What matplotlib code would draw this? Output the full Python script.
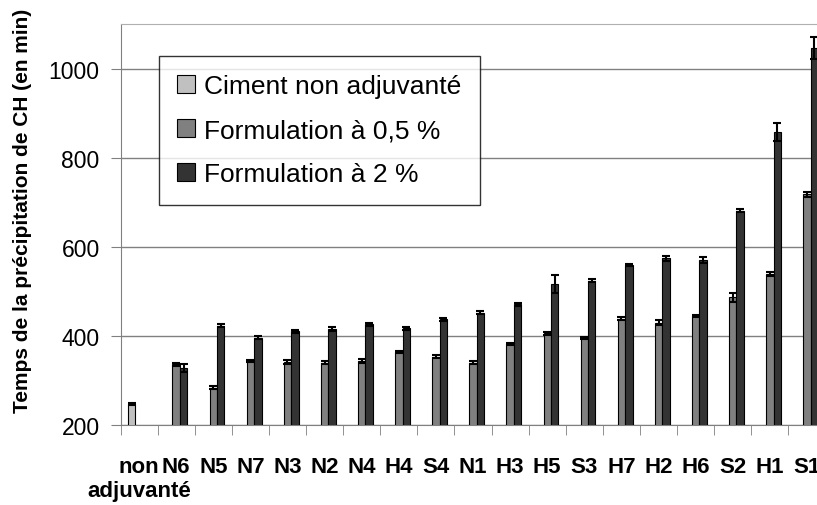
import numpy as np
import matplotlib
matplotlib.use("Agg")
import matplotlib.pyplot as plt
from matplotlib.patches import Patch

plt.rcParams['font.family'] = ['Liberation Sans', 'DejaVu Sans']

# Categories (sorted as in the figure)
categories = ['non\nadjuvanté', 'N6', 'N5', 'N7', 'N3', 'N2', 'N4', 'H4', 'S4', 'N1',
              'H3', 'H5', 'S3', 'H7', 'H2', 'H6', 'S2', 'H1', 'S1']

# Ciment non adjuvanté (only first category)
ref_value = [248]
ref_err = [2]

# Formulation à 0,5 % (categories N6 ... S1)
f05_values = [336, 284, 344, 342, 340, 344, 364, 353, 340, 382, 406, 395, 439, 430, 445, 487, 539, 718]
f05_err = [3, 4, 3, 5, 3, 4, 3, 3, 3, 3, 3, 3, 3, 6, 3, 10, 4, 6]

# Formulation à 2 %
f2_values = [328, 423, 396, 410, 415, 426, 417, 437, 452, 471, 516, 524, 559, 574, 570, 681, 858, 1046]
f2_err = [8, 3, 4, 4, 4, 3, 4, 4, 3, 3, 20, 3, 3, 5, 6, 4, 20, 25]

labels = ['Ciment non adjuvanté', 'Formulation à 0,5 %', 'Formulation à 2 %']
colors = ['#c0c0c0', '#808080', '#333333']

fig = plt.figure(figsize=(8.17, 5.06), dpi=100)
# plot area runs slightly past the right edge of the image, like the original crop
ax = fig.add_axes([120.5 / 817, 80 / 506, 705 / 817, 401 / 506])

x = np.arange(len(categories))
w = 0.2
err_kw = dict(ecolor='black', elinewidth=1.5, capsize=3, capthick=1.5)

ax.bar(x[:1] - w, ref_value, w, bottom=0, color=colors[0], edgecolor='black',
       linewidth=0.8, yerr=ref_err, error_kw=err_kw, zorder=3)
ax.bar(x[1:], f05_values, w, color=colors[1], edgecolor='black',
       linewidth=0.8, yerr=f05_err, error_kw=err_kw, zorder=3)
ax.bar(x[1:] + w, f2_values, w, color=colors[2], edgecolor='black',
       linewidth=0.8, yerr=f2_err, error_kw=err_kw, zorder=3)

ax.set_xlim(-0.5, len(categories) - 0.5)
ax.set_ylim(200, 1100)
ax.set_yticks([200, 400, 600, 800, 1000])
ax.yaxis.grid(True, color='#808080', linewidth=1)
ax.set_axisbelow(True)

ax.set_xticks(x)
ax.set_xticklabels(categories, fontsize=16, fontweight='bold')
ax.set_xticks(np.arange(len(categories)) - 0.5, minor=True)
ax.tick_params(axis='x', which='major', length=0, pad=22)
ax.tick_params(axis='x', which='minor', length=7, color='#808080', direction='out')
ax.tick_params(axis='y', length=7, color='#808080', direction='out', pad=8, labelsize=16.5)

for s in ['left', 'bottom']:
    ax.spines[s].set_color('#808080')
ax.spines['right'].set_visible(False)
ax.spines['top'].set_color('#b0b0b0')

fig.text(23 / 817, 1 - 211 / 506, 'Temps de la précipitation de CH (en min)',
         rotation=90, ha='center', va='center', fontsize=15, fontweight='bold')

handles = [Patch(facecolor=c, edgecolor='black', linewidth=0.8) for c in colors]
leg = fig.legend(handles, labels, loc='upper left', bbox_to_anchor=(159 / 817, 1 - 57 / 506),
                 bbox_transform=fig.transFigure, borderaxespad=0, fontsize=19,
                 frameon=True, fancybox=False, shadow=False, edgecolor='black',
                 handlelength=0.65, handleheight=0.65, handletextpad=0.35,
                 labelspacing=0.75, borderpad=0.7)
leg.get_frame().set_linewidth(1)

fig.savefig('out.png', dpi=100)
